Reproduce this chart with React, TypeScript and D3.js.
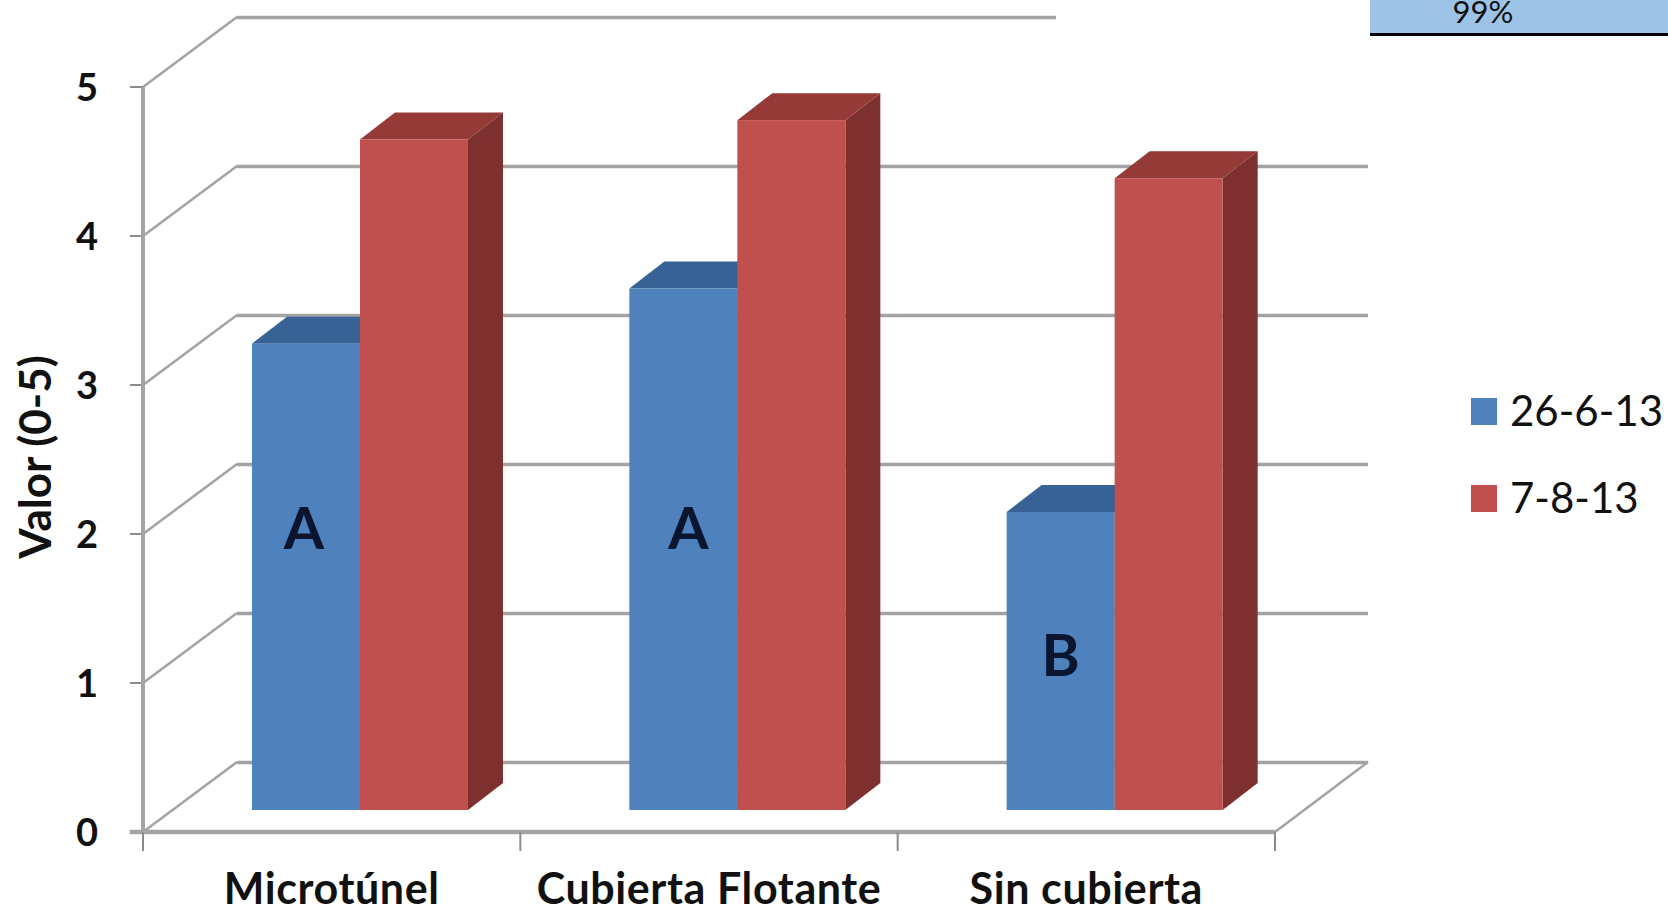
import React from "react";
import * as d3 from "d3";

const categories = ["Microtúnel", "Cubierta Flotante", "Sin cubierta"];
const seriesNames = ["26-6-13", "7-8-13"];
const firstDate = [3.13, 3.5, 2.0];
const secondDate = [4.5, 4.63, 4.24];
const groupLetters = ["A", "A", "B"];
const letterLevels = [1.9, 1.9, 1.05];
const yTicks = [0, 1, 2, 3, 4, 5];

const FONT = "Lato, 'Open Sans', sans-serif";
const GRID = "#a3a3a3";
const INK = "#111111";
const BLUE = { front: "#4f81bd", top: "#376296" };
const RED = { front: "#c0504d", top: "#953a36", side: "#7d302e" };

// Oblique offset of the back wall from the front plane
const wallDx = 94;
const wallDy = -70;
// Oblique offset of a bar's top and side faces
const barDx = 35;
const barDy = -27;
const floorLift = -22;

const x = d3.scaleBand<string>().domain(categories).range([143, 1275]);
const y = d3.scaleLinear().domain([0, 5]).range([832, 87]);
const barWidth = 108;
const barInset = 109;
// Horizontal nudge of each group letter inside its bar
const letterNudge = [-2, 5, 0];

function Bar({ left, value, c }: { left: number; value: number; c: { front: string; top: string; side?: string } }) {
  const top = y(value) + floorLift;
  const base = y(0) + floorLift;
  const right = left + barWidth;
  const topPath = d3.path();
  topPath.moveTo(left, top);
  topPath.lineTo(left + barDx, top + barDy);
  topPath.lineTo(right + barDx, top + barDy);
  topPath.lineTo(right, top);
  topPath.closePath();
  const sidePath = d3.path();
  sidePath.moveTo(right, top);
  sidePath.lineTo(right + barDx, top + barDy);
  sidePath.lineTo(right + barDx, base + barDy);
  sidePath.lineTo(right, base);
  sidePath.closePath();
  return (
    <g>
      <path d={sidePath.toString()} fill={c.side ?? c.top} />
      <path d={topPath.toString()} fill={c.top} />
      <rect x={left} y={top} width={barWidth} height={base - top} fill={c.front} />
    </g>
  );
}

export default function App() {
  const x0 = x.range()[0];
  const x1 = x.range()[1];
  const edges = [...categories.map((c) => x(c) as number), x1];
  return (
    <svg width={1668} height={913} style={{ position: "absolute", left: 0, top: 0, background: "#fff" }}>
      {/* back wall gridlines and their oblique returns */}
      {yTicks.map((t) => (
        <g key={t} fill="none" stroke={GRID}>
          <line x1={x0 + wallDx} x2={x1 + wallDx - 1} y1={y(t) + wallDy + 0.5} y2={y(t) + wallDy + 0.5} strokeWidth={3.5} />
          <line x1={x0} x2={x0 + wallDx} y1={y(t)} y2={y(t) + wallDy} strokeWidth={2.5} />
          <line x1={x0 - 13} x2={x0} y1={y(t)} y2={y(t)} strokeWidth={2} stroke="#8c8c8c" />
        </g>
      ))}
      <rect x={1056} y={0} width={330} height={37} fill="#fff" />

      {/* floor edge and front axes */}
      <line x1={x1} x2={x1 + wallDx - 1} y1={y(0)} y2={y(0) + wallDy} stroke={GRID} strokeWidth={2.5} />
      <line x1={x0} x2={x0} y1={y(5)} y2={y(0)} stroke={GRID} strokeWidth={4} />
      <line x1={x0 - 13} x2={x1} y1={y(0)} y2={y(0)} stroke={GRID} strokeWidth={4.5} />
      {edges.map((e) => (
        <line key={e} x1={e} x2={e} y1={y(0)} y2={y(0) + 19} stroke="#8c8c8c" strokeWidth={2} />
      ))}

      {/* bars */}
      {categories.map((c, i) => {
        const left = (x(c) as number) + barInset;
        return (
          <g key={c}>
            <Bar left={left} value={firstDate[i]} c={BLUE} />
            <Bar left={left + barWidth} value={secondDate[i]} c={RED} />
            <text
              x={left + barWidth / 2 + letterNudge[i]}
              y={y(letterLevels[i]) + floorLift}
              textAnchor="middle"
              dominantBaseline="central"
              fontFamily={FONT}
              fontWeight={700}
              fontSize={58}
              fill="#0a1530"
            >
              {groupLetters[i]}
            </text>
          </g>
        );
      })}

      {/* value labels */}
      {yTicks.map((t) => (
        <text key={t} x={98} y={y(t) - 1} textAnchor="end" dominantBaseline="central" fontFamily={FONT} fontWeight={700} fontSize={38} fill={INK}>
          {t}
        </text>
      ))}
      <text
        transform={`translate(34,457) rotate(-90)`}
        textAnchor="middle"
        dominantBaseline="central"
        fontFamily={FONT}
        fontWeight={700}
        fontSize={44}
        fill={INK}
      >
        Valor (0-5)
      </text>

      {/* category labels */}
      {categories.map((c) => (
        <text key={c} x={(x(c) as number) + x.bandwidth() / 2} y={904} textAnchor="middle" fontFamily={FONT} fontWeight={700} fontSize={43} letterSpacing={0.6} fill={INK}>
          {c}
        </text>
      ))}

      {/* legend */}
      {seriesNames.map((s, i) => (
        <g key={s}>
          <rect x={1471} y={398 + i * 87} width={26} height={27} fill={i === 0 ? BLUE.front : RED.front} />
          <text x={1510} y={426 + i * 87} fontFamily={FONT} fontSize={42} fill={INK}>
            {s}
          </text>
        </g>
      ))}

      {/* fragment of a neighbouring table */}
      <rect x={1370} y={0} width={298} height={33} fill="#9dc3e6" />
      <rect x={1370} y={33} width={298} height={3} fill="#000" />
      <text x={1483} y={23} textAnchor="middle" fontFamily={FONT} fontSize={31} fill="#111">
        99%
      </text>
    </svg>
  );
}
